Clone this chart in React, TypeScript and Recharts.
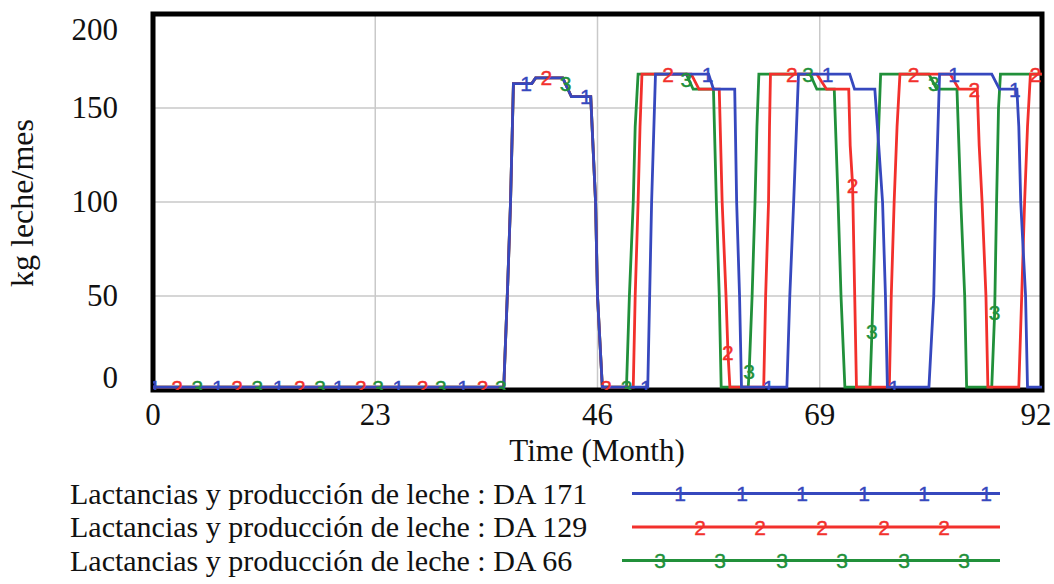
import { ComposedChart, Line, Scatter, XAxis, YAxis, CartesianGrid, ReferenceArea, Label } from 'recharts';

const MONTH_TICKS = [0, 23, 46, 69, 92];
const KG_TICKS = [0, 50, 100, 150, 200];

// [month, kg leche/mes] breakpoints
const da171: [number, number][] = [
  [0, 1.5], [36.3, 1.5], [36.7, 55], [37.0, 100], [37.3, 163], [39.2, 163], [39.6, 166], [42.4, 166], [43.3, 156], [45.3, 156], [45.8, 100], [46.0, 50], [46.5, 1.5],
  [51.2, 1.5], [51.6, 100], [52.0, 168], [57.5, 168], [58.0, 160], [60.2, 160], [60.4, 100], [60.7, 50], [60.9, 1.5],
  [65.6, 1.5], [65.9, 50], [66.3, 100], [66.8, 168], [72.1, 168], [72.6, 160], [74.7, 160], [75.1, 130], [75.5, 100], [75.8, 50], [76.0, 1.5],
  [80.3, 1.5], [80.8, 50], [81.0, 100], [81.4, 168], [86.8, 168], [87.6, 160], [89.4, 160], [89.6, 140], [89.8, 100], [90.3, 50], [90.5, 1.5], [92, 1.5],
];
const da129: [number, number][] = [
  [0, 1.5], [36.3, 1.5], [36.7, 55], [37.0, 100], [37.3, 163], [39.2, 163], [39.6, 166], [42.4, 166], [43.3, 156], [45.3, 156], [45.8, 100], [46.0, 50], [46.5, 1.5],
  [49.7, 1.5], [49.9, 50], [50.2, 100], [50.4, 140], [50.6, 168], [55.7, 168], [56.5, 160], [58.6, 160], [58.9, 100], [59.3, 50], [59.5, 20], [59.7, 1.5],
  [63.2, 1.5], [63.4, 50], [63.7, 100], [63.8, 140], [63.9, 168], [68.7, 168], [69.7, 160], [72.0, 160], [72.15, 130], [72.4, 109], [72.6, 55], [72.8, 1.5],
  [76.2, 1.5], [76.4, 50], [76.7, 100], [77.0, 140], [77.3, 168], [82.5, 168], [83.4, 160], [85.3, 160], [85.5, 130], [85.8, 100], [86.2, 50], [86.4, 1.5],
  [89.6, 1.5], [89.9, 50], [90.2, 100], [90.5, 140], [90.8, 168], [92, 168],
];
const da66: [number, number][] = [
  [0, 1.5], [36.3, 1.5], [36.7, 55], [37.0, 100], [37.3, 163], [39.2, 163], [39.6, 166], [42.4, 166], [43.3, 156], [45.3, 156], [45.8, 100], [46.0, 50], [46.5, 1.5],
  [49.0, 1.5], [49.3, 50], [49.7, 100], [49.9, 140], [50.2, 168], [55.2, 168], [55.9, 160], [58.0, 160], [58.3, 100], [58.6, 50], [58.8, 1.5],
  [61.6, 1.5], [61.7, 10], [62.0, 50], [62.3, 100], [62.5, 140], [62.7, 168], [68.0, 168], [68.7, 160], [70.5, 160], [70.9, 100], [71.2, 50], [71.6, 1.5],
  [74.2, 1.5], [74.4, 31], [74.8, 100], [75.1, 140], [75.3, 168], [80.3, 168], [81.1, 160], [83.2, 160], [83.6, 100], [84.0, 50], [84.2, 1.5],
  [86.8, 1.5], [87.1, 41], [87.3, 100], [87.5, 150], [87.7, 168], [92, 168],
];

// where the "1" / "2" / "3" run markers sit
const da171Marks: [number, number][] = [
  [0.2, 1.5], [6.7, 1.5], [13.0, 1.5], [19.2, 1.5], [25.4, 1.5], [32.1, 1.5], [38.6, 163], [44.8, 156],
  [51.0, 1.5], [57.4, 168], [63.7, 1.5], [69.8, 168], [76.7, 1.5], [82.9, 168], [89.2, 160],
];
const da129Marks: [number, number][] = [
  [2.5, 1.5], [8.7, 1.5], [15.2, 1.5], [21.5, 1.5], [27.9, 1.5], [34.1, 1.5], [40.7, 166], [46.9, 1.5],
  [53.3, 168], [59.5, 20], [66.1, 168], [72.4, 109], [78.7, 168], [85.0, 160], [91.3, 168],
];
const da66Marks: [number, number][] = [
  [4.6, 1.5], [10.8, 1.5], [17.3, 1.5], [23.3, 1.5], [29.8, 1.5], [36.0, 1.5], [42.7, 163], [49.0, 1.5],
  [55.2, 165], [61.7, 10], [67.8, 168], [74.4, 31], [80.8, 163], [87.1, 41],
];

const BLUE = '#3648be';
const RED = '#f2302c';
const GREEN = '#21903a';
const SERIF = "'Liberation Serif', 'Times New Roman', serif";
const SANS = "'Liberation Sans', Arial, sans-serif";

const toRows = (pts: [number, number][]) => pts.map(([t, v]) => ({ t, v }));

// drawn bottom-up so DA 171 ends on top, as in the original
const SERIES = [
  { key: 'da66', label: 'Lactancias y producción de leche : DA 66', mark: '3', color: GREEN, line: da66, marks: da66Marks },
  { key: 'da129', label: 'Lactancias y producción de leche : DA 129', mark: '2', color: RED, line: da129, marks: da129Marks },
  { key: 'da171', label: 'Lactancias y producción de leche : DA 171', mark: '1', color: BLUE, line: da171, marks: da171Marks },
];

function MarkGlyph({ cx, cy, glyph, color }: any) {
  return (
    <text x={cx} y={cy + 7.5} textAnchor="middle" fontSize={21} fontFamily={SANS} fill={color} stroke={color} strokeWidth={0.4}>{glyph}</text>
  );
}

function KgTick({ y, payload }: any) {
  const cy = Math.min(Math.max(y, 30), 378);
  return <text x={118} y={cy + 10} textAnchor="end" fontSize={31} fontFamily={SERIF} fill="#111">{payload.value}</text>;
}

function MonthTick({ x, payload }: any) {
  return <text x={Math.min(x, 1036)} y={425} textAnchor="middle" fontSize={31} fontFamily={SERIF} fill="#111">{payload.value}</text>;
}

// legend sample positions (px inside the legend strip)
const LEGEND_ROWS = [
  { label: SERIES[2].label, color: BLUE, glyph: '1', x0: 632, marks: [680, 742, 802, 864, 924, 986] },
  { label: SERIES[1].label, color: RED, glyph: '2', x0: 632, marks: [700, 760, 822, 884, 944] },
  { label: SERIES[0].label, color: GREEN, glyph: '3', x0: 622, marks: [660, 720, 782, 842, 904, 964] },
];

function SeriesLegend() {
  return (
    <svg width={1054} height={114} style={{ position: 'absolute', left: 0, top: 470 }}>
      {LEGEND_ROWS.map((r, i) => {
        const base = 33.5 + i * 33.5;
        const ly = base - 10;
        return (
          <g key={r.glyph}>
            <text x={70} y={base} fontSize={30} fontFamily={SERIF} fill="#111">{r.label}</text>
            <line x1={r.x0} x2={1000} y1={ly} y2={ly} stroke={r.color} strokeWidth={2.8} />
            {r.marks.map(mx => (
              <text key={mx} x={mx} y={ly + 7.5} textAnchor="middle" fontSize={21} fontFamily={SANS} fill={r.color} stroke={r.color} strokeWidth={0.4}>{r.glyph}</text>
            ))}
          </g>
        );
      })}
    </svg>
  );
}

export default function App() {
  return (
    <div style={{ position: 'absolute', left: 0, top: 0, width: 1054, height: 584, background: '#fff' }}>
      <ComposedChart width={1054} height={584} margin={{ top: 14, right: 12, left: 0, bottom: 114 }}>
        <CartesianGrid stroke="#c9c9c9" strokeWidth={1.5} />
        <XAxis
          type="number"
          dataKey="t"
          domain={[0, 92]}
          ticks={MONTH_TICKS}
          interval={0}
          allowDataOverflow
          axisLine={false}
          tickLine={false}
          height={80}
          tick={<MonthTick />}
        >
          <Label content={() => <text x={597} y={461} textAnchor="middle" fontSize={31} fontFamily={SERIF} fill="#111">Time (Month)</text>} />
        </XAxis>
        <YAxis
          type="number"
          dataKey="v"
          domain={[0, 200]}
          ticks={KG_TICKS}
          interval={0}
          allowDataOverflow
          axisLine={false}
          tickLine={false}
          width={153}
          tick={<KgTick />}
        >
          <Label content={() => <text transform="translate(33,203) rotate(-90)" textAnchor="middle" fontSize={32} fontFamily={SERIF} fill="#111">kg leche/mes</text>} />
        </YAxis>
        {SERIES.map(s => (
          <Line
            key={s.key}
            data={toRows(s.line)}
            dataKey="v"
            type="linear"
            stroke={s.color}
            strokeWidth={2.8}
            dot={false}
            activeDot={false}
            isAnimationActive={false}
          />
        ))}
        {SERIES.map(s => (
          <Scatter
            key={s.key + '-marks'}
            data={toRows(s.marks)}
            dataKey="v"
            isAnimationActive={false}
            shape={(p: any) => <MarkGlyph cx={p.cx} cy={p.cy} glyph={s.mark} color={s.color} />}
          />
        ))}
        <ReferenceArea x1={0} x2={92} y1={0} y2={200} fill="none" stroke="#000" strokeWidth={5} ifOverflow="visible" />
      </ComposedChart>
      <SeriesLegend />
    </div>
  );
}
